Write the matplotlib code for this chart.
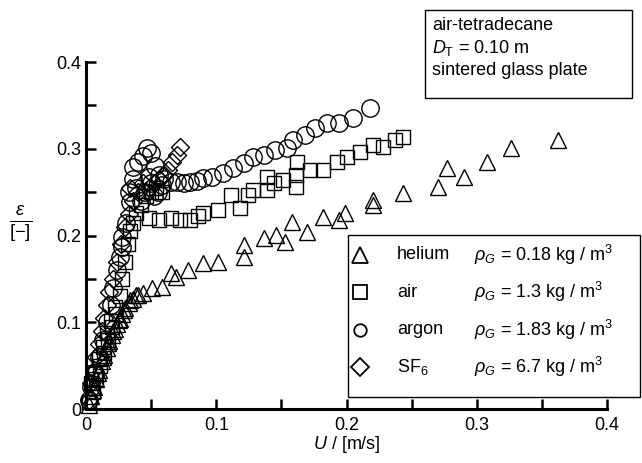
import matplotlib
matplotlib.use("Agg")
import matplotlib.pyplot as plt
from matplotlib.patches import Rectangle

plt.rcParams['font.family'] = ['Liberation Sans', 'DejaVu Sans']
plt.rcParams['mathtext.fontset'] = 'custom'
plt.rcParams['mathtext.rm'] = 'Liberation Sans'
plt.rcParams['mathtext.it'] = 'Liberation Sans:italic'

# gas hold-up data (U in m/s, eps in -)
helium_u = [0.002, 0.004, 0.006, 0.008, 0.010, 0.012, 0.014, 0.016, 0.018, 0.020,
            0.022, 0.024, 0.026, 0.028, 0.030, 0.033, 0.036, 0.040, 0.044, 0.051,
            0.058, 0.065, 0.069, 0.078, 0.090, 0.101, 0.121, 0.121, 0.137, 0.146,
            0.153, 0.158, 0.170, 0.182, 0.194, 0.199, 0.220, 0.220, 0.243, 0.270,
            0.277, 0.290, 0.308, 0.326, 0.362,
            0.005, 0.009, 0.013, 0.017, 0.021, 0.025, 0.029, 0.034, 0.038]
helium_eps = [0.005, 0.015, 0.025, 0.035, 0.045, 0.055, 0.062, 0.070, 0.078, 0.085,
              0.092, 0.098, 0.104, 0.110, 0.116, 0.122, 0.127, 0.132, 0.134, 0.140,
              0.141, 0.157, 0.152, 0.160, 0.168, 0.170, 0.175, 0.189, 0.197, 0.201,
              0.193, 0.216, 0.204, 0.221, 0.218, 0.226, 0.235, 0.241, 0.249, 0.256,
              0.278, 0.268, 0.285, 0.301, 0.310,
              0.022, 0.041, 0.060, 0.076, 0.090, 0.103, 0.114, 0.126, 0.131]

air_u = [0.002, 0.005, 0.008, 0.011, 0.014, 0.017, 0.020, 0.023, 0.026, 0.028,
         0.030, 0.032, 0.034, 0.036, 0.038, 0.042, 0.046, 0.050, 0.054, 0.058,
         0.048, 0.056, 0.065, 0.072, 0.080, 0.086, 0.090, 0.101, 0.111, 0.118,
         0.124, 0.128, 0.139, 0.139, 0.144, 0.151, 0.161, 0.161, 0.162, 0.172,
         0.182, 0.193, 0.200, 0.210, 0.220, 0.228, 0.237, 0.243,
         0.004, 0.007, 0.010, 0.013, 0.016, 0.019, 0.022]
air_eps = [0.008, 0.020, 0.035, 0.050, 0.065, 0.080, 0.095, 0.110, 0.130, 0.150,
           0.170, 0.190, 0.205, 0.215, 0.226, 0.235, 0.245, 0.250, 0.255, 0.250,
           0.220, 0.218, 0.220, 0.218, 0.218, 0.222, 0.226, 0.230, 0.247, 0.232,
           0.247, 0.253, 0.253, 0.268, 0.261, 0.264, 0.256, 0.270, 0.285, 0.276,
           0.276, 0.285, 0.290, 0.296, 0.304, 0.302, 0.310, 0.314,
           0.030, 0.042, 0.058, 0.072, 0.088, 0.102, 0.118]

argon_u = [0.002, 0.004, 0.007, 0.010, 0.013, 0.016, 0.019, 0.021, 0.024, 0.026,
           0.028, 0.028, 0.031, 0.034, 0.033, 0.036, 0.036, 0.040, 0.044, 0.047,
           0.050, 0.053, 0.056, 0.060, 0.065, 0.070, 0.075, 0.080, 0.085, 0.090,
           0.097, 0.105, 0.113, 0.121, 0.128, 0.137, 0.145, 0.154, 0.159, 0.168,
           0.176, 0.185, 0.194, 0.205, 0.218, 0.042, 0.045, 0.050, 0.055,
           0.038, 0.048, 0.052, 0.058]
argon_eps = [0.010, 0.025, 0.040, 0.060, 0.080, 0.100, 0.120, 0.140, 0.160, 0.175,
             0.187, 0.198, 0.215, 0.239, 0.250, 0.265, 0.279, 0.285, 0.292, 0.301,
             0.295, 0.280, 0.270, 0.265, 0.262, 0.262, 0.260, 0.262, 0.263, 0.266,
             0.268, 0.272, 0.278, 0.284, 0.290, 0.293, 0.299, 0.301, 0.310, 0.316,
             0.324, 0.330, 0.330, 0.336, 0.347, 0.240, 0.250, 0.260, 0.250,
             0.255, 0.268, 0.245, 0.258]

sf6_u = [0.002, 0.004, 0.006, 0.008, 0.010, 0.012, 0.014, 0.016, 0.018, 0.021,
         0.024, 0.027, 0.030, 0.033, 0.034, 0.036, 0.040, 0.044, 0.048, 0.052,
         0.056, 0.060, 0.063, 0.066, 0.070, 0.072]
sf6_eps = [0.010, 0.030, 0.045, 0.060, 0.075, 0.090, 0.105, 0.120, 0.135, 0.150,
           0.170, 0.190, 0.210, 0.225, 0.255, 0.240, 0.250, 0.260, 0.255, 0.260,
           0.265, 0.270, 0.275, 0.285, 0.293, 0.302]

ticks = [0, 0.1, 0.2, 0.3, 0.4]
tick_labels = ['0', '0.1', '0.2', '0.3', '0.4']
minor_ticks = [0.05, 0.15, 0.25, 0.35]

legend_names = ['helium', 'air', 'argon', 'SF$_6$']
legend_rho = ['0.18', '1.3', '1.83', '6.7']
legend_markers = ['^', 's', 'o', 'D']
legend_sizes = [11, 10, 9, 9]

fig = plt.figure(figsize=(6.42, 4.63), dpi=100)
ax = fig.add_axes([0.134, 0.1166, 0.8115, 0.7494])

style = dict(linestyle='none', mfc='none', mec='black', mew=1.0, clip_on=False)
ax.plot(helium_u, helium_eps, marker='^', ms=11, **style)
ax.plot(air_u, air_eps, marker='s', ms=10, **style)
ax.plot(argon_u, argon_eps, marker='o', ms=12.5, **style)
ax.plot(sf6_u, sf6_eps, marker='D', ms=9, **style)

ax.set_xlim(0, 0.4)
ax.set_ylim(0, 0.4)
ax.set_xticks(ticks)
ax.set_xticklabels(tick_labels)
ax.set_yticks(ticks)
ax.set_yticklabels(tick_labels)
ax.set_xticks(minor_ticks, minor=True)
ax.set_yticks(minor_ticks, minor=True)
ax.tick_params(which='both', direction='in', length=7, width=1.8, labelsize=13)
ax.tick_params(axis='x', pad=6)
ax.spines['top'].set_visible(False)
ax.spines['right'].set_visible(False)
for s in ['left', 'bottom']:
    ax.spines[s].set_linewidth(2.2)

ax.set_xlabel('$U$ / [m/s]', fontsize=13, labelpad=0)
ax.text(-0.125, 0.53, r'$\frac{\varepsilon}{[-]}$', transform=ax.transAxes,
        fontsize=19, ha='center', va='center')

# text box top right
ax.add_patch(Rectangle((0.651, 0.896), 0.397, 0.254, transform=ax.transAxes,
                       fill=False, lw=1.0, ec='black', clip_on=False))
box_lines = ['air-tetradecane', '$D_\\mathrm{T}$ = 0.10 m', 'sintered glass plate']
for i, line in enumerate(box_lines):
    ax.text(0.665, 1.105 - i * 0.065, line, transform=ax.transAxes, fontsize=13,
            ha='left', va='center')

# legend box
ax.add_patch(Rectangle((0.503, 0.035), 0.56, 0.466, transform=ax.transAxes,
                       fill=False, lw=1.0, ec='black', clip_on=False))
for i, (nm, rho, mk, sz) in enumerate(zip(legend_names, legend_rho, legend_markers, legend_sizes)):
    yy = 0.444 - i * 0.108
    ax.plot([0.526], [yy], marker=mk, ms=sz, linestyle='none', mfc='none',
            mec='black', mew=1.3, transform=ax.transAxes, clip_on=False)
    ax.text(0.597, yy, nm, transform=ax.transAxes, fontsize=13, ha='left', va='center')
    ax.text(0.744, yy, '$\\rho_G$ = ' + rho + ' kg / m$^3$', transform=ax.transAxes,
            fontsize=13, ha='left', va='center')

fig.savefig('out.png', dpi=100)
